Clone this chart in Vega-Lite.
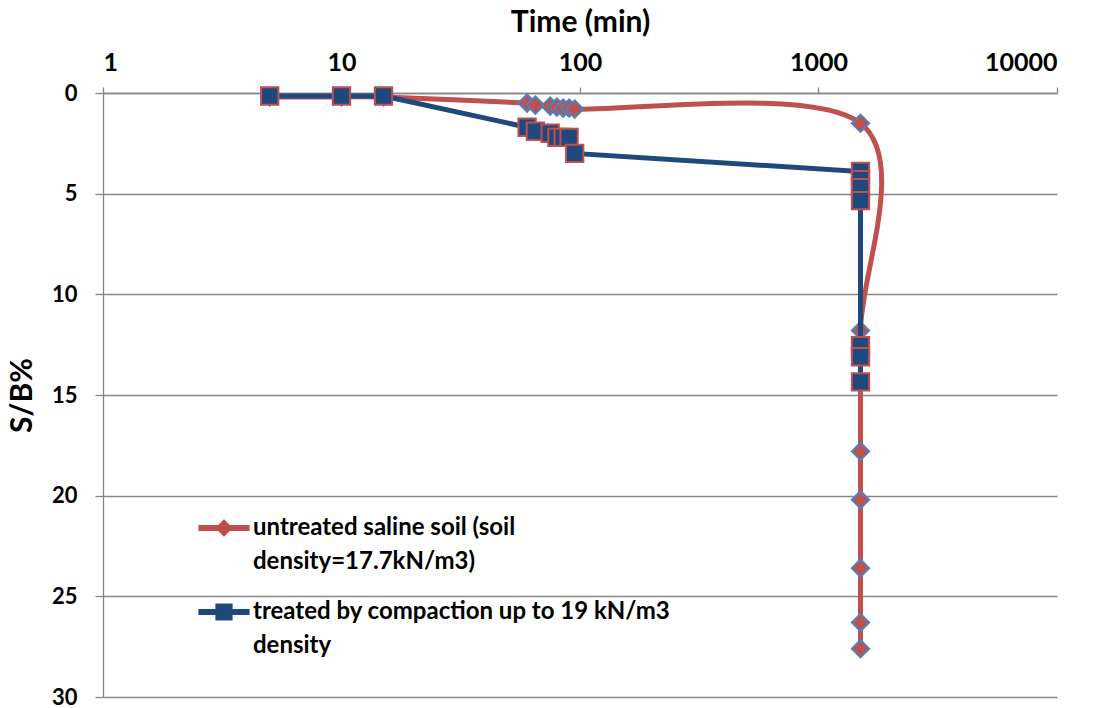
{
  "$schema": "https://vega.github.io/schema/vega-lite/v6.json",
  "width": 954,
  "height": 604,
  "autosize": {"type": "none"},
  "padding": {"left": 103, "top": 93, "right": 44, "bottom": 11},
  "background": "white",
  "config": {
    "view": {"stroke": null},
    "font": "Lato",
    "axis": {
      "labelFont": "Lato", "labelFontWeight": "bold", "labelColor": "black",
      "titleFont": "Lato", "titleFontWeight": "bold", "titleFontSize": 30, "titleColor": "black",
      "gridColor": "#868686", "gridWidth": 1.3, "gridOpacity": 1,
      "domainColor": "#868686", "domainWidth": 1.3,
      "tickColor": "#868686", "tickWidth": 1.3
    }
  },
  "data": {
    "values": [
      {"series": "untreated", "i": 1, "time": 5, "sb": 0.2},
      {"series": "untreated", "i": 2, "time": 10, "sb": 0.2},
      {"series": "untreated", "i": 3, "time": 15, "sb": 0.2},
      {"series": "untreated", "i": 4, "time": 60, "sb": 0.5},
      {"series": "untreated", "i": 5, "time": 65, "sb": 0.6},
      {"series": "untreated", "i": 6, "time": 75, "sb": 0.65},
      {"series": "untreated", "i": 7, "time": 80, "sb": 0.7},
      {"series": "untreated", "i": 8, "time": 85, "sb": 0.75},
      {"series": "untreated", "i": 9, "time": 90, "sb": 0.75},
      {"series": "untreated", "i": 10, "time": 95, "sb": 0.8},
      {"series": "untreated", "i": 11, "time": 1500, "sb": 1.5},
      {"series": "untreated", "i": 12, "time": 1500, "sb": 11.8},
      {"series": "untreated", "i": 13, "time": 1500, "sb": 17.8},
      {"series": "untreated", "i": 14, "time": 1500, "sb": 20.2},
      {"series": "untreated", "i": 15, "time": 1500, "sb": 23.6},
      {"series": "untreated", "i": 16, "time": 1500, "sb": 26.3},
      {"series": "untreated", "i": 17, "time": 1500, "sb": 27.6},
      {"series": "treated", "i": 1, "time": 5, "sb": 0.15},
      {"series": "treated", "i": 2, "time": 10, "sb": 0.15},
      {"series": "treated", "i": 3, "time": 15, "sb": 0.15},
      {"series": "treated", "i": 4, "time": 60, "sb": 1.7},
      {"series": "treated", "i": 5, "time": 65, "sb": 1.9},
      {"series": "treated", "i": 6, "time": 75, "sb": 2.0},
      {"series": "treated", "i": 7, "time": 80, "sb": 2.2},
      {"series": "treated", "i": 8, "time": 85, "sb": 2.2},
      {"series": "treated", "i": 9, "time": 90, "sb": 2.2},
      {"series": "treated", "i": 10, "time": 95, "sb": 3.0},
      {"series": "treated", "i": 11, "time": 1500, "sb": 3.9},
      {"series": "treated", "i": 12, "time": 1500, "sb": 4.3},
      {"series": "treated", "i": 13, "time": 1500, "sb": 4.7},
      {"series": "treated", "i": 14, "time": 1500, "sb": 5.35},
      {"series": "treated", "i": 15, "time": 1500, "sb": 12.55},
      {"series": "treated", "i": 16, "time": 1500, "sb": 13.1},
      {"series": "treated", "i": 17, "time": 1500, "sb": 14.35}
    ]
  },
  "encoding": {
    "x": {
      "field": "time", "type": "quantitative",
      "scale": {"type": "log", "domain": [1, 10000], "nice": false},
      "axis": {
        "orient": "top", "title": "Time (min)", "values": [1, 10, 100, 1000, 10000],
        "format": "d", "grid": false, "tickSize": 6, "labelFontSize": 25, "labelPadding": 12, "titlePadding": 13
      }
    },
    "y": {
      "field": "sb", "type": "quantitative",
      "scale": {"domain": [0, 30], "reverse": true, "nice": false, "zero": false},
      "axis": {
        "title": "S/B%", "values": [0, 5, 10, 15, 20, 25, 30], "grid": true,
        "tickSize": 8, "labelFontSize": 22, "labelPadding": 18, "titlePadding": 14
      }
    },
    "order": {"field": "i", "type": "quantitative"}
  },
  "layer": [
    {
      "transform": [{"filter": "datum.series == 'untreated'"}],
      "mark": {"type": "line", "interpolate": "cardinal", "strokeWidth": 5},
      "encoding": {
        "color": {
          "field": "series", "type": "nominal",
          "scale": {"domain": ["untreated", "treated"], "range": ["#C0504D", "#1F497D"]},
          "legend": {
            "orient": "none", "legendX": 109, "legendY": 423, "title": null,
            "padding": 0, "symbolSize": 400, "labelOffset": 17, "rowPadding": 26,
            "labelFont": "Lato", "labelFontWeight": "bold", "labelFontSize": 24, "labelLimit": 0,
            "labelBaseline": "middle", "labelColor": "black",
            "labelExpr": "datum.value == 'untreated' ? ['untreated saline soil (soil', 'density=17.7kN/m3)'] : ['treated by compaction up to 19 kN/m3', 'density']",
            "encode": {
              "labels": {"update": {"lineHeight": {"value": 34}}},
              "symbols": {
                "update": {
                  "shape": {"signal": "datum.value == 'untreated' ? 'M-2.5,-0.24H-0.56L0,-0.8L0.56,-0.24H2.5V0.24H0.56L0,0.8L-0.56,0.24H-2.5Z' : 'M-2.5,-0.24H-0.8V-0.8H0.8V-0.24H2.5V0.24H0.8V0.8H-0.8V0.24H-2.5Z'"},
                  "fill": {"signal": "datum.value == 'untreated' ? '#C0504D' : '#1F497D'"},
                  "stroke": {"signal": "datum.value == 'untreated' ? '#4F81BD' : '#C0504D'"},
                  "strokeWidth": {"value": 1.2},
                  "opacity": {"value": 1},
                  "fillOpacity": {"value": 1}
                }
              }
            }
          }
        }
      }
    },
    {
      "transform": [{"filter": "datum.series == 'untreated'"}],
      "mark": {"type": "point", "shape": "diamond", "filled": true, "size": 300, "fill": "#C0504D", "stroke": "#4F81BD", "strokeWidth": 2, "opacity": 1}
    },
    {
      "transform": [{"filter": "datum.series == 'treated'"}],
      "mark": {"type": "line", "interpolate": "linear", "strokeWidth": 5},
      "encoding": {
        "color": {"field": "series", "type": "nominal"}
      }
    },
    {
      "transform": [{"filter": "datum.series == 'treated'"}],
      "mark": {"type": "point", "shape": "square", "filled": true, "size": 300, "fill": "#1F497D", "stroke": "#C0504D", "strokeWidth": 2, "opacity": 1}
    }
  ]
}
